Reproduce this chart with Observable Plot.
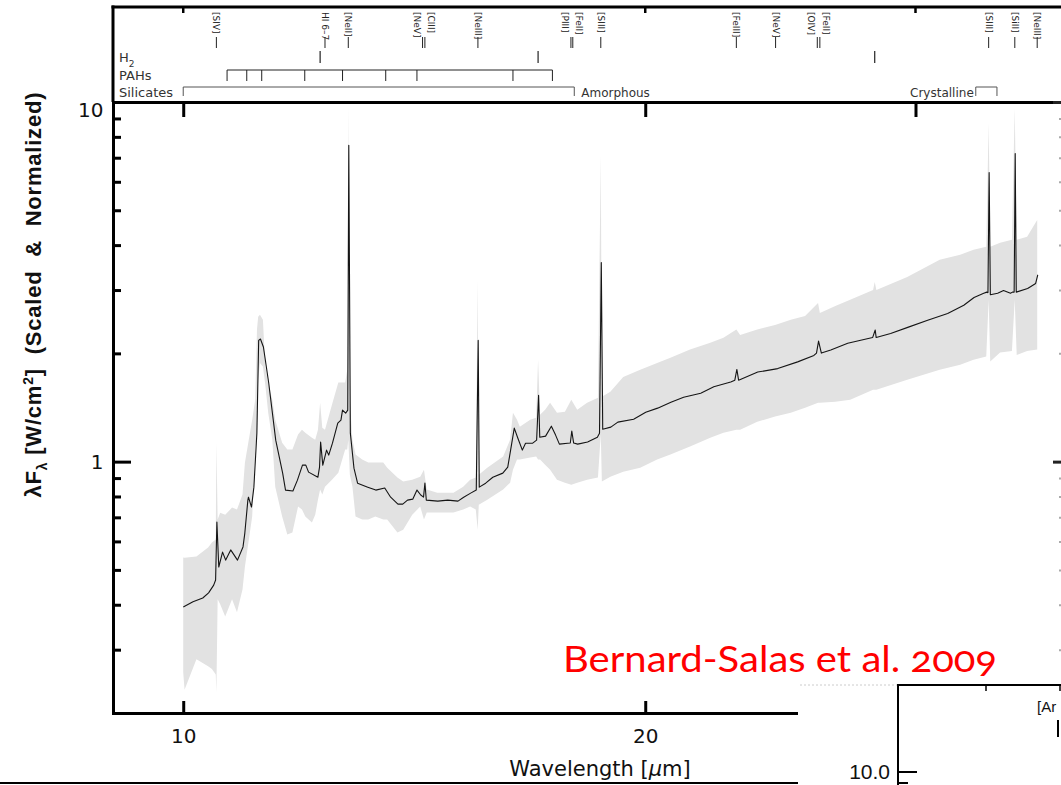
<!DOCTYPE html>
<html><head><meta charset="utf-8">
<script src="https://cdn.jsdelivr.net/npm/d3@7"></script>
<script src="https://cdn.jsdelivr.net/npm/@observablehq/plot@0.6"></script>
<style>
html,body{margin:0;padding:0;background:#fff;overflow:hidden;}
#wrap{position:relative;width:1080px;height:785px;overflow:hidden;}
</style></head><body><div id="wrap"></div>
<script>
// ---- spectrum (black line) ----
const lineWave = [10.00,10.14,10.29,10.38,10.46,10.49,10.51,10.54,10.60,10.65,10.73,10.84,10.93,10.96,11.01,11.02,11.07,11.11,11.16,11.19,11.22,11.27,11.36,11.48,11.60,11.65,11.78,11.86,11.95,12.01,12.06,12.23,12.26,12.28,12.32,12.39,12.43,12.50,12.60,12.66,12.69,12.75,12.79,12.81,12.84,12.91,12.98,13.18,13.34,13.52,13.64,13.79,13.89,13.99,14.10,14.19,14.27,14.33,14.36,14.39,14.64,14.86,15.09,15.22,15.38,15.51,15.555,15.58,15.73,15.90,16.14,16.26,16.33,16.42,16.50,16.62,16.70,16.88,16.98,17.03,17.06,17.21,17.36,17.47,17.57,17.79,17.86,17.90,17.95,18.06,18.33,18.60,18.66,18.71,18.75,18.98,19.18,19.64,20.00,20.36,20.77,21.17,21.72,22.15,22.72,22.86,22.93,22.99,23.66,24.38,25.12,25.74,25.84,25.92,26.03,26.40,27.08,28.11,28.22,28.26,28.88,29.63,30.53,31.46,32.23,32.73,33.21,33.36,33.42,33.48,33.54,33.91,34.21,34.57,34.67,34.76,34.815,34.87,35.47,35.90,36.01];
const lineFlux = [0.396,0.409,0.419,0.433,0.455,0.470,0.681,0.511,0.562,0.534,0.570,0.534,0.581,0.635,0.784,0.799,0.750,0.852,1.204,2.18,2.20,2.09,1.66,1.151,0.932,0.836,0.831,0.891,0.981,0.981,0.938,0.908,0.969,1.137,0.981,1.080,1.046,1.129,1.283,1.308,1.395,1.368,1.395,7.60,1.204,0.962,0.874,0.852,0.836,0.847,0.799,0.764,0.764,0.784,0.789,0.836,0.810,0.799,0.874,0.784,0.779,0.784,0.779,0.799,0.820,0.836,2.18,0.852,0.874,0.908,0.932,0.969,1.080,1.243,1.173,1.080,1.129,1.129,1.151,1.535,1.173,1.181,1.259,1.189,1.122,1.129,1.13,1.22,1.13,1.122,1.137,1.173,1.204,3.59,1.235,1.251,1.292,1.316,1.377,1.413,1.468,1.515,1.555,1.62,1.67,1.69,1.81,1.69,1.78,1.82,1.90,1.98,2.01,2.17,2.01,2.05,2.14,2.22,2.33,2.22,2.28,2.37,2.48,2.59,2.73,2.87,2.95,2.97,2.96,6.39,2.92,2.95,3.00,2.95,2.97,2.97,7.21,2.97,3.04,3.14,3.31];

// ---- uncertainty band (grey) ----
const bandWave = [10.00,10.02,10.20,10.38,10.44,10.50,10.51,10.53,10.57,10.65,10.76,10.84,10.93,10.97,11.09,11.14,11.17,11.19,11.22,11.27,11.31,11.36,11.43,11.48,11.60,11.69,11.78,11.88,11.95,12.01,12.13,12.19,12.24,12.28,12.32,12.37,12.50,12.62,12.75,12.79,12.81,12.84,12.89,12.95,13.08,13.20,13.34,13.50,13.58,13.79,13.91,14.10,14.27,14.35,14.41,14.64,15.00,15.22,15.38,15.51,15.555,15.58,15.78,16.16,16.33,16.40,16.50,16.57,16.83,16.98,17.03,17.08,17.21,17.34,17.52,17.73,17.90,18.06,18.33,18.63,18.71,18.74,18.98,19.35,19.85,20.36,20.77,21.39,22.05,22.49,22.93,23.06,23.66,24.30,24.88,25.42,25.92,25.99,26.60,27.20,28.15,28.22,28.29,29.63,31.11,32.08,32.73,33.36,33.48,33.56,34.06,34.67,34.815,34.92,35.47,36.01];
const bandLow = [0.259,0.232,0.282,0.270,0.265,0.256,0.228,0.414,0.401,0.371,0.414,0.381,0.441,0.511,0.704,1.080,1.204,1.69,1.88,1.84,1.636,1.368,1.151,0.852,0.704,0.627,0.635,0.750,0.736,0.704,0.677,0.712,0.784,0.836,0.810,0.852,0.891,0.932,1.080,1.080,1.151,0.920,0.852,0.704,0.690,0.690,0.704,0.690,0.690,0.635,0.647,0.712,0.750,0.690,0.722,0.722,0.722,0.736,0.750,0.736,0.647,0.759,0.784,0.836,0.874,0.950,1.013,1.013,1.026,1.033,1.013,1.013,0.981,0.950,0.891,0.874,0.863,0.874,0.891,0.903,1.189,0.880,0.908,0.938,0.962,1.013,1.046,1.101,1.166,1.204,1.227,1.227,1.29,1.334,1.368,1.413,1.458,1.458,1.468,1.487,1.585,1.585,1.585,1.69,1.80,1.86,1.92,1.96,2.82,1.90,2.01,2.03,2.82,1.98,2.03,2.05];
const bandHigh = [0.541,0.54,0.545,0.577,0.596,0.607,1.129,0.690,0.721,0.712,0.745,0.736,0.810,0.994,1.308,1.487,2.33,2.53,2.56,2.48,1.84,1.64,1.487,1.308,1.129,1.080,1.080,1.189,1.227,1.204,1.166,1.151,1.227,1.458,1.243,1.227,1.44,1.66,1.66,1.80,9.81,1.487,1.151,1.046,1.013,0.994,0.994,0.994,0.962,0.903,0.880,0.891,0.908,0.950,0.836,0.820,0.820,0.852,0.891,0.903,3.20,0.920,0.962,1.033,1.151,1.368,1.308,1.251,1.308,1.325,1.92,1.35,1.395,1.458,1.368,1.377,1.487,1.395,1.458,1.505,7.12,1.515,1.565,1.72,1.80,1.88,1.945,2.05,2.14,2.21,2.33,2.25,2.33,2.40,2.48,2.54,2.76,2.59,2.71,2.82,3.00,3.16,3.00,3.26,3.64,3.76,3.88,3.96,8.73,3.96,4.06,4.14,9.62,4.14,4.22,4.70];

// ---- feature annotations ----
const featNames = ["[SIV]","HI 6–7","[NeII]","[NeV]","[ClII]","[NeIII]","[PIII]","[FeII]","[SIII]","[FeIII]","[NeV]","[OIV]","[FeII]","[SIII]","[SiII]","[NeIII]"];
const featWave = [10.51,12.37,12.81,14.32,14.37,15.56,17.89,17.94,18.71,22.93,24.32,25.89,25.99,33.48,34.82,36.01];
const h2Wave = [12.28,17.03,28.22];
const pahWave = [10.68,11.0,11.25,12.0,12.7,13.55,14.2,16.4,17.4];
const silAmorph = [10, 17.98];
const silCryst = [32.84, 33.9];
const rowLabels = ["PAHs","Silicates"];

// ---- axes ----
const xTicks = [10,20,30];
const yMajor = [1,10];
const yMinor = [0.3,0.4,0.5,0.6,0.7,0.8,0.9,2,3,4,5,6,7,8,9];

const W = 1080, H = 785;
const lineIdx = d3.range(lineWave.length);
const bandIdx = d3.range(bandWave.length);

const plot = Plot.plot({
  width: W, height: H,
  marginLeft: 113, marginRight: W - 1066, marginTop: 102, marginBottom: H - 713,
  x: {type: "log", domain: [9, 37.6]},
  y: {type: "log", domain: [0.2, 10]},
  style: {background: "transparent", fontFamily: "DejaVu Sans", overflow: "visible", maxWidth: "none"},
  marks: [
    Plot.areaY(bandIdx, {x: i => bandWave[i], y1: i => bandLow[i], y2: i => bandHigh[i], fill: "#e2e2e2"}),
    Plot.line(lineIdx, {x: i => lineWave[i], y: i => lineFlux[i], stroke: "#151515", strokeWidth: 1.1}),
    Plot.frame({stroke: "#000", strokeWidth: 3}),
    // left ticks (inward)
    Plot.axisY({anchor: "left", ticks: yMajor, tickSize: 18, dx: 18, tickFormat: () => "", label: null, strokeWidth: 3, stroke: "#000"}),
    Plot.axisY({anchor: "left", ticks: yMinor, tickSize: 8, dx: 8, tickFormat: () => "", label: null, strokeWidth: 3, stroke: "#000"}),
    // right ticks (inward)
    Plot.axisY({anchor: "right", ticks: yMajor, tickSize: 14, dx: -14, tickFormat: () => "", label: null, strokeWidth: 3, stroke: "#222"}),
    Plot.axisY({anchor: "right", ticks: yMinor, tickSize: 8, dx: -8, tickFormat: () => "", label: null, strokeWidth: 2, stroke: "#aaa"}),
    // y labels
    Plot.axisY({anchor: "left", ticks: [1], tickSize: 0, tickPadding: 10, fontSize: 20, label: null, tickFormat: d => String(d), fill: "#111"}),
    Plot.axisY({anchor: "left", ticks: [10], tickSize: 0, tickPadding: 10, dy: 8, fontSize: 20, label: null, tickFormat: d => String(d), fill: "#111"}),
    // x ticks
    Plot.axisX({anchor: "bottom", ticks: xTicks, tickSize: 12, dy: -12, tickFormat: () => "", label: null, strokeWidth: 3, stroke: "#000"}),
    Plot.axisX({anchor: "top", ticks: xTicks, tickSize: 14, dy: 14, tickFormat: () => "", label: null, strokeWidth: 3, stroke: "#000"}),
    Plot.axisX({anchor: "bottom", ticks: xTicks, tickSize: 0, tickPadding: 15, fontSize: 20, label: null, tickFormat: d => String(d), fill: "#111"})
  ]
});
document.getElementById("wrap").appendChild(plot);

const svg = d3.select(plot);
const sx = plot.scale("x");
const X = v => sx.apply(v);
const g = svg.append("g").attr("font-family", "DejaVu Sans").attr("text-anchor", "start");
const ln = (x1, y1, x2, y2, sw, col) => g.append("line").attr("x1", x1).attr("y1", y1).attr("x2", x2).attr("y2", y2).attr("stroke", col || "#000").attr("stroke-width", sw || 1);

// top panel frame
ln(111.5, 7, W, 7, 3);
ln(113, 5.5, 113, 102, 3);
xTicks.forEach(t => ln(X(t), 7, X(t), 13, 2.5));

// line identifications
featWave.forEach((w, i) => {
  const prev = featWave[i - 1], next = featWave[i + 1];
  let off = 0;
  if (next !== undefined && next - w < 0.15) off = -6;
  else if (prev !== undefined && w - prev < 0.15) off = 6;
  const x = X(w);
  ln(x, 37, x, 48, 1, "#222");
  g.append("text").attr("transform", `translate(${x + off},12) rotate(90)`).attr("text-anchor", "start")
    .attr("font-size", 9).attr("dominant-baseline", "central").attr("fill", "#222").text(featNames[i]);
});

// H2
const h2 = g.append("text").attr("x", 119).attr("y", 62).attr("font-size", 13).attr("fill", "#333");
h2.append("tspan").text("H");
h2.append("tspan").attr("font-size", 9).attr("dy", 5).text("2");
h2Wave.forEach(w => ln(X(w), 51, X(w), 63, 1.2, "#222"));

// PAHs
g.append("text").attr("x", 119).attr("y", 80).attr("font-size", 13).attr("fill", "#333").text(rowLabels[0]);
ln(X(pahWave[0]), 70, X(pahWave[pahWave.length - 1]), 70, 1, "#222");
pahWave.forEach(w => ln(X(w), 70, X(w), 81, 1, "#222"));

// Silicates
g.append("text").attr("x", 119).attr("y", 97).attr("font-size", 13).attr("fill", "#333").text(rowLabels[1]);
ln(X(silAmorph[0]), 87, X(silAmorph[1]), 87, 1, "#555");
silAmorph.forEach(w => ln(X(w), 87, X(w), 96, 1, "#555"));
g.append("text").attr("x", X(silAmorph[1]) + 7).attr("y", 97).attr("font-size", 12).attr("fill", "#333").text("Amorphous");
ln(X(silCryst[0]), 87, X(silCryst[1]), 87, 1, "#555");
silCryst.forEach(w => ln(X(w), 87, X(w), 96, 1, "#555"));
g.append("text").attr("x", X(silCryst[0]) - 2).attr("y", 97).attr("text-anchor", "end").attr("font-size", 12).attr("fill", "#333").text("Crystalline");

// axis titles
const xl = g.append("text").attr("x", 600).attr("y", 776).attr("text-anchor", "middle").attr("font-size", 21).attr("fill", "#111");
xl.append("tspan").text("Wavelength [");
xl.append("tspan").attr("font-style", "italic").text("μ");
xl.append("tspan").text("m]");

const yl = g.append("text").attr("transform", "translate(41,295) rotate(-90)").attr("text-anchor", "middle")
  .attr("font-family", "Liberation Sans").attr("font-weight", "bold").attr("font-size", 22).attr("fill", "#111")
  .attr("textLength", 405).attr("lengthAdjust", "spacing");
yl.append("tspan").text("λF");
yl.append("tspan").attr("font-size", 14).attr("dy", 6).text("λ");
yl.append("tspan").attr("dy", -6).text(" [W/cm");
yl.append("tspan").attr("font-size", 14).attr("dy", -8).text("2");
yl.append("tspan").attr("dy", 8).text("]  (Scaled  &  Normalized)");

// overlapping slide elements (bottom-right inset of another figure)
g.append("rect").attr("x", 798).attr("y", 683).attr("width", W - 798).attr("height", H - 683).attr("fill", "#fff");
ln(800, 685, 897, 685, 1, "#ccc").attr("stroke-dasharray", "2,2");
ln(897, 685, W, 685, 2);
ln(898, 684, 898, H, 2);
ln(986, 685, 986, 691, 1.5);
ln(1060, 685, 1060, 691, 1.5);
ln(898, 772, 917, 772, 2);
ln(898, 783, 908, 783, 2);
ln(1058, 720, 1058, 737, 2);
g.append("text").attr("x", 1037).attr("y", 712).attr("font-family", "Liberation Sans").attr("font-size", 15).attr("fill", "#111").text("[Ar");
g.append("text").attr("x", 890).attr("y", 779).attr("text-anchor", "end").attr("font-family", "Liberation Sans").attr("font-size", 21).attr("fill", "#111").text("10.0");
ln(0, 783, 798, 783, 2);

// citation
g.append("text").attr("x", 563).attr("y", 672).attr("text-anchor", "start").attr("font-family", "Lato").attr("font-size", 36).attr("fill", "#ff0000")
  .attr("textLength", 434).attr("lengthAdjust", "spacingAndGlyphs").style("font-variant-numeric", "oldstyle-nums")
  .text("Bernard-Salas et al. 2009");
</script>
</body></html>
